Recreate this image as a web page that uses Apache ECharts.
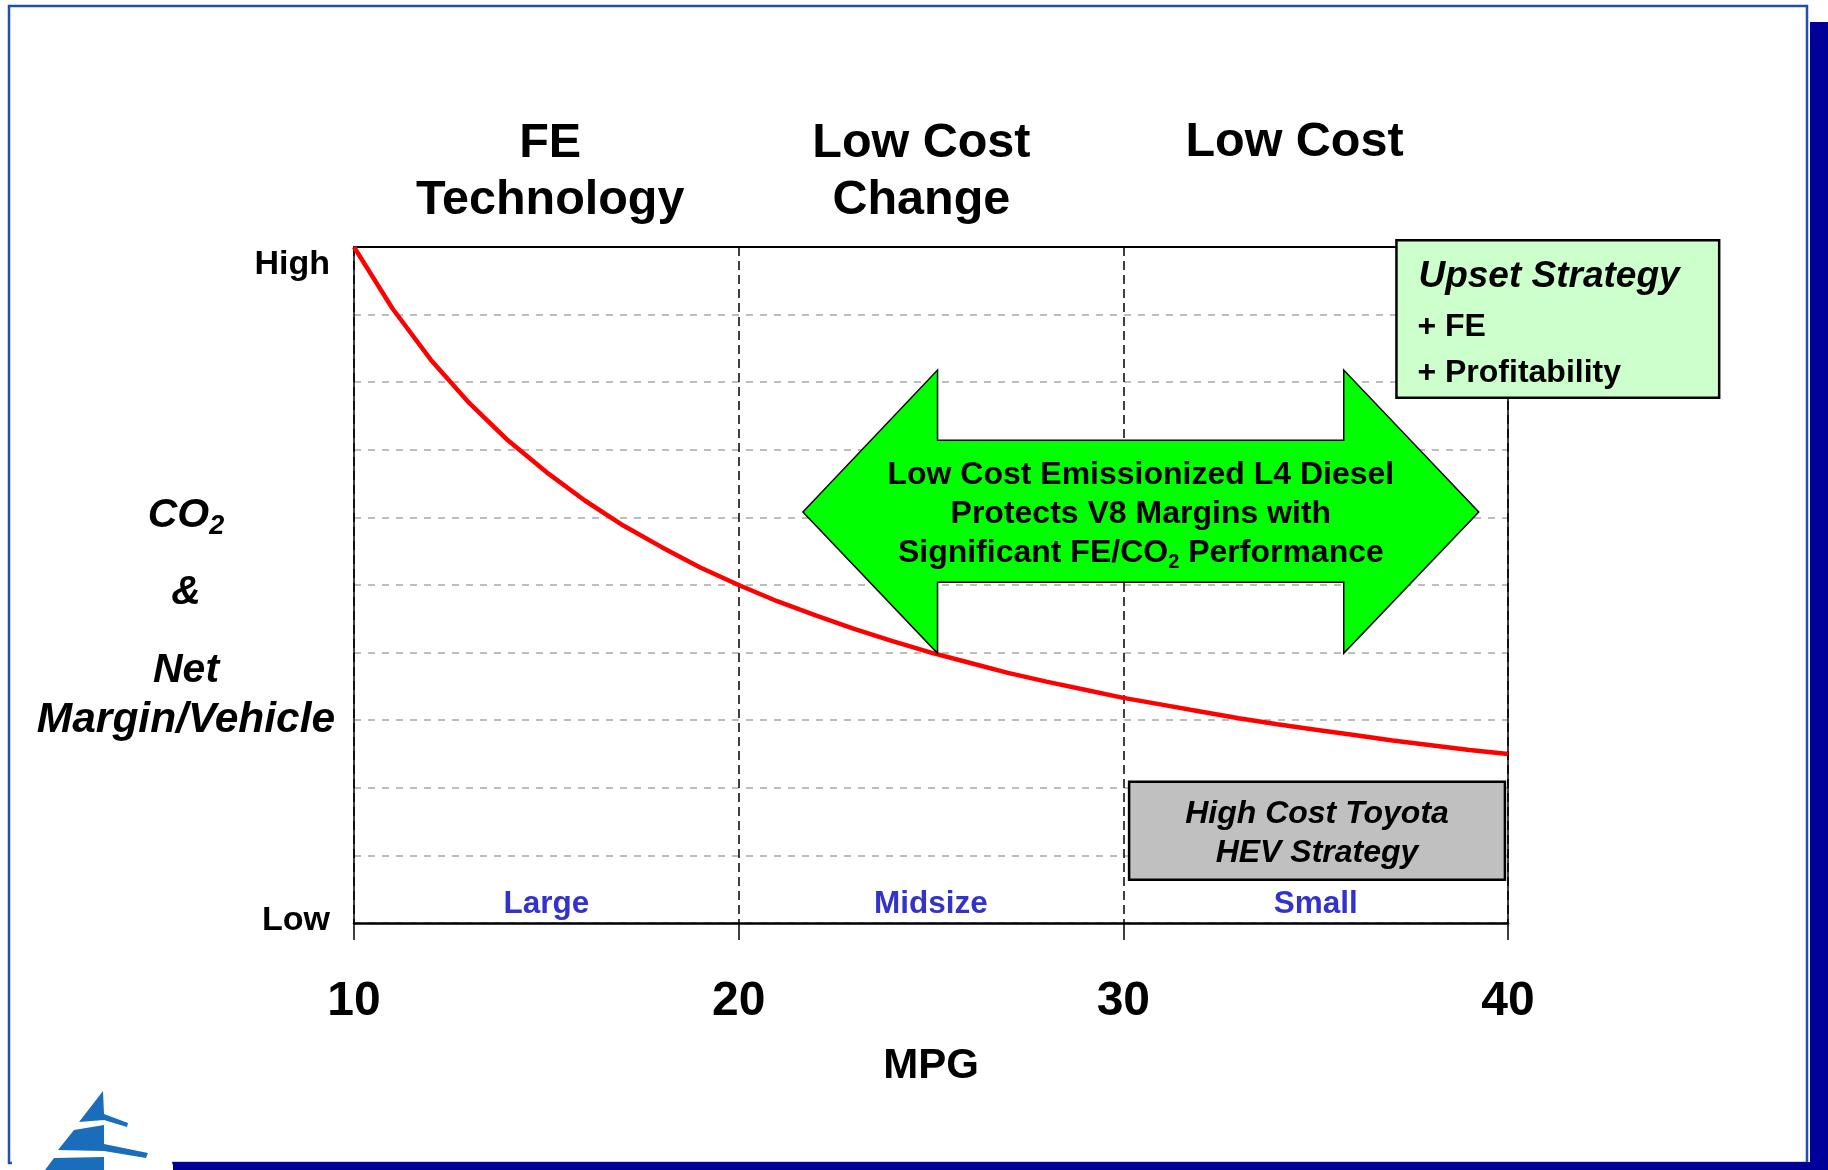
<!DOCTYPE html>
<html>
<head>
<meta charset="utf-8">
<script src="https://cdn.jsdelivr.net/npm/echarts@6.0.0/dist/echarts.min.js"></script>
<style>
  html, body { margin: 0; padding: 0; background: #ffffff; }
  #chart { width: 1828px; height: 1170px; }
</style>
</head>
<body>
<div id="chart"></div>
<script>
// ---- data -------------------------------------------------------------
const mpg = [10, 11, 12, 13, 14, 15, 16, 17, 18, 19, 20, 21, 22, 23, 24, 25,
             26, 27, 28, 29, 30, 31, 32, 33, 34, 35, 36, 37, 38, 39, 40];
// CO2 & net margin per vehicle, on a 0 (Low) .. 10 (High) scale
const co2Margin = [10.0, 9.09, 8.33, 7.69, 7.14, 6.67, 6.25, 5.88, 5.56, 5.26, 5.00,
                   4.76, 4.55, 4.35, 4.17, 4.00, 3.85, 3.70, 3.57, 3.45, 3.33,
                   3.23, 3.13, 3.03, 2.94, 2.86, 2.78, 2.70, 2.63, 2.56, 2.50];
const xTickValues = [10, 20, 30, 40];
const xTickLabels = ['10', '20', '30', '40'];
const yTickLabels = ['Low', 'High'];
const sizeClasses = ['Large', 'Midsize', 'Small'];
const strategyHeadings = ['FE\nTechnology', 'Low Cost\nChange', 'Low Cost'];
const arrowLines = ['Low Cost Emissionized L4 Diesel', 'Protects V8 Margins with', 'Significant FE/CO₂ Performance'];
const upsetLines = ['Upset Strategy', '+ FE', '+ Profitability'];
const hevLines = ['High Cost Toyota', 'HEV Strategy'];

// ---- layout (MPG / scale units) ------------------------------------------
const FONT = '"Liberation Sans", Arial, Helvetica, sans-serif';
const sizeClassAt = [15, 25, 35];
const headingAt = [15.1, 24.75, 34.45];
// double-headed arrow outline
const ARROW = [
  [21.67, 6.08], [25.17, 8.18], [25.17, 7.14], [35.73, 7.14], [35.73, 8.18],
  [39.24, 6.08], [35.73, 3.99], [35.73, 5.04], [25.17, 5.04], [25.17, 3.99]
];
const UPSET_BOX = [37.10, 10.10, 45.49, 7.77];
const HEV_BOX = [30.15, 2.09, 39.92, 0.64];

const chart = echarts.init(document.getElementById('chart'), null, { renderer: 'canvas' });

function renderNotes(params, api) {
  const i = params.dataIndex;
  if (i === 0) {
    const pts = ARROW.map(p => api.coord(p));
    const c = api.coord([(ARROW[0][0] + ARROW[5][0]) / 2, ARROW[0][1]]);
    const t = arrowLines[2].split('CO₂');
    return {
      type: 'group',
      children: [
        { type: 'polygon', shape: { points: pts },
          style: { fill: '#00ff00', stroke: '#000000', lineWidth: 1.5 } },
        { type: 'text', x: c[0], y: c[1] + 2,
          style: {
            text: '{m|' + arrowLines[0] + '}\n{m|' + arrowLines[1] + '}\n{m|' + t[0] + 'CO}{s|2}{m|' + t[1] + '}',
            align: 'center', verticalAlign: 'middle',
            rich: {
              m: { fontFamily: FONT, fontWeight: 'bold', fontSize: 32, lineHeight: 39, fill: '#000' },
              s: { fontFamily: FONT, fontWeight: 'bold', fontSize: 20, lineHeight: 17, verticalAlign: 'bottom', fill: '#000' }
            }
          } }
      ]
    };
  }
  if (i === 1) {
    const a = api.coord([UPSET_BOX[0], UPSET_BOX[1]]);
    const b = api.coord([UPSET_BOX[2], UPSET_BOX[3]]);
    return {
      type: 'group',
      children: [
        { type: 'rect', shape: { x: a[0], y: a[1], width: b[0] - a[0], height: b[1] - a[1] },
          style: { fill: '#ccffcc', stroke: '#000000', lineWidth: 2.5 } },
        { type: 'text', x: a[0] + 22, y: a[1] + 37,
          style: { text: upsetLines[0], fontFamily: FONT, fontWeight: 'bold', fontStyle: 'italic', fontSize: 37,
                   fill: '#000', align: 'left', verticalAlign: 'middle' } },
        { type: 'text', x: a[0] + 21, y: a[1] + 87,
          style: { text: upsetLines[1], fontFamily: FONT, fontWeight: 'bold', fontSize: 32,
                   fill: '#000', align: 'left', verticalAlign: 'middle' } },
        { type: 'text', x: a[0] + 21, y: a[1] + 133,
          style: { text: upsetLines[2], fontFamily: FONT, fontWeight: 'bold', fontSize: 32,
                   fill: '#000', align: 'left', verticalAlign: 'middle' } }
      ]
    };
  }
  const a = api.coord([HEV_BOX[0], HEV_BOX[1]]);
  const b = api.coord([HEV_BOX[2], HEV_BOX[3]]);
  return {
    type: 'group',
    children: [
      { type: 'rect', shape: { x: a[0], y: a[1], width: b[0] - a[0], height: b[1] - a[1] },
        style: { fill: '#c0c0c0', stroke: '#000000', lineWidth: 2.5 } },
      { type: 'text', x: (a[0] + b[0]) / 2, y: (a[1] + b[1]) / 2 + 3,
        style: { text: hevLines.join('\n'), fontFamily: FONT, fontWeight: 'bold', fontStyle: 'italic',
                 fontSize: 32, lineHeight: 39, fill: '#000', align: 'center', verticalAlign: 'middle' } }
    ]
  };
}

// plain frame axes on the top and right edges of the plot
const frameAxis = {
  axisTick: { show: false }, axisLabel: { show: false }, splitLine: { show: false }
};

chart.setOption({
  animation: false,
  backgroundColor: '#ffffff',
  grid: {
    left: 354, right: 320, top: 247, bottom: 247,
    containLabel: false, outerBoundsMode: 'none', show: false
  },
  xAxis: [{
    type: 'value', min: 10, max: 40, interval: 10, position: 'bottom',
    name: 'MPG', nameLocation: 'middle', nameGap: 122,
    nameTextStyle: { fontFamily: FONT, fontWeight: 'bold', fontSize: 42, color: '#000' },
    axisLine: { show: true, lineStyle: { color: '#000', width: 2.5 } },
    axisTick: { show: true, length: 17, lineStyle: { color: '#000', width: 1.5 } },
    axisLabel: {
      margin: 55, fontFamily: FONT, fontWeight: 'bold', fontSize: 48, color: '#000',
      formatter: v => xTickLabels[xTickValues.indexOf(v)] || ''
    },
    splitLine: { show: true, lineStyle: { color: '#000', width: 1.5, type: [9, 5] } }
  }, Object.assign({
    type: 'value', min: 10, max: 40, interval: 10, position: 'top',
    axisLine: { show: true, onZero: false, lineStyle: { color: '#000', width: 2 } }
  }, frameAxis)],
  yAxis: [{
    type: 'value', min: 0, max: 10, interval: 1, position: 'left',
    axisLine: { show: true, lineStyle: { color: '#000', width: 1.5 } },
    axisTick: { show: false },
    axisLabel: {
      margin: 24, color: '#000',
      formatter: v => v === 0 ? '{lo|' + yTickLabels[0] + '}' : (v === 10 ? '{hi|' + yTickLabels[1] + '}' : ''),
      rich: {
        hi: { fontFamily: FONT, fontWeight: 'bold', fontSize: 34, color: '#000', padding: [36, 0, 0, 0] },
        lo: { fontFamily: FONT, fontWeight: 'bold', fontSize: 34, color: '#000', padding: [0, 0, 5, 0] }
      }
    },
    splitLine: { show: true, lineStyle: { color: '#bdbdbd', width: 2, type: [7, 7] } }
  }, Object.assign({
    type: 'value', min: 0, max: 10, interval: 1, position: 'right',
    axisLine: { show: true, onZero: false, lineStyle: { color: '#000', width: 1.5 } }
  }, frameAxis)],
  series: [
    {
      type: 'line', name: 'CO2 & Net Margin/Vehicle',
      data: mpg.map((x, i) => [x, co2Margin[i]]),
      showSymbol: false, symbol: 'none', smooth: false, z: 3,
      lineStyle: { color: '#ff0000', width: 4.5 }
    },
    {
      type: 'custom', coordinateSystem: 'cartesian2d', clip: false, silent: true, z: 6,
      data: [[0, 0], [1, 0], [2, 0]],
      renderItem: renderNotes
    }
  ]
});

// ---- texts and slide frame placed around the plot -------------------------
const px = (x, y) => chart.convertToPixel({ xAxisIndex: 0, yAxisIndex: 0 }, [x, y]);
const graphics = [];

// slide frame
graphics.push(
  { type: 'rect', shape: { x: 9, y: 6, width: 1798, height: 1157 },
    style: { fill: 'none', stroke: '#1f4fb0', lineWidth: 2.5 }, z: 1 },
  { type: 'rect', shape: { x: 1810, y: 22, width: 18, height: 1148 }, style: { fill: '#000099' }, z: 2 },
  { type: 'rect', shape: { x: 173, y: 1162, width: 1655, height: 8 }, style: { fill: '#000099' }, z: 2 }
);
// sail logo
graphics.push(
  { type: 'rect', shape: { x: 12, y: 1130, width: 160, height: 40 }, style: { fill: '#ffffff' }, z: 2 },
  { type: 'polygon', shape: { points: [[103, 1091], [104, 1114], [128, 1123], [127, 1127], [104, 1120], [79, 1122]] },
    style: { fill: '#1a6dbb' }, z: 3 },
  { type: 'polygon', shape: { points: [[74, 1130], [104, 1125], [104, 1144], [148, 1153], [146, 1158], [104, 1151], [58, 1150]] },
    style: { fill: '#1a6dbb' }, z: 3 },
  { type: 'polygon', shape: { points: [[54, 1158], [104, 1157], [104, 1170], [45, 1170]] },
    style: { fill: '#1a6dbb' }, z: 3 }
);

// strategy headings above the plot
strategyHeadings.forEach((t, i) => {
  const p = px(headingAt[i], 10);
  const twoLines = t.indexOf('\n') >= 0;
  graphics.push({
    type: 'text', x: p[0], y: twoLines ? 172.5 : 143, z: 10,
    style: { text: t, fontFamily: FONT, fontWeight: 'bold', fontSize: 48.5, lineHeight: 57,
             fill: '#000', align: 'center', verticalAlign: 'middle' }
  });
});

// vehicle size classes along the bottom of the plot
sizeClasses.forEach((t, i) => {
  const p = px(sizeClassAt[i], 0.28);
  graphics.push({
    type: 'text', x: p[0], y: p[1], z: 10,
    style: { text: t, fontFamily: FONT, fontWeight: 'bold', fontSize: 31.5,
             fill: '#3333cc', align: 'center', verticalAlign: 'middle' }
  });
});

// vertical axis title
const yTitle = { fontFamily: FONT, fontWeight: 'bold', fontStyle: 'italic', fill: '#000', align: 'center', verticalAlign: 'middle' };
graphics.push(
  { type: 'text', x: 186, y: 516, z: 10,
    style: Object.assign({}, yTitle, {
      text: '{b|CO}{s|2}',
      rich: {
        b: { fontFamily: FONT, fontWeight: 'bold', fontStyle: 'italic', fontSize: 41, lineHeight: 48, fill: '#000' },
        s: { fontFamily: FONT, fontWeight: 'bold', fontStyle: 'italic', fontSize: 27, lineHeight: 22, verticalAlign: 'bottom', fill: '#000' }
      }
    }) },
  { type: 'text', x: 186, y: 593, z: 10, style: Object.assign({}, yTitle, { text: '&', fontSize: 41 }) },
  { type: 'text', x: 186, y: 671, z: 10, style: Object.assign({}, yTitle, { text: 'Net', fontSize: 41 }) },
  { type: 'text', x: 186, y: 720, z: 10, style: Object.assign({}, yTitle, { text: 'Margin/Vehicle', fontSize: 42.5 }) }
);

chart.setOption({ graphic: graphics });
</script>
</body>
</html>
